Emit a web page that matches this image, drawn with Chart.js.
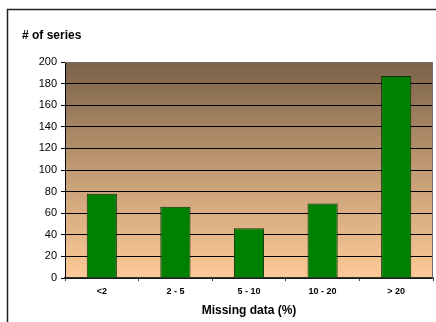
<!DOCTYPE html>
<html>
<head>
<meta charset="utf-8">
<script src="https://cdn.jsdelivr.net/npm/chart.js@4/dist/chart.umd.min.js"></script>
<style>
  html, body { margin: 0; padding: 0; background: #fff; }
  #wrap { width: 436px; height: 322px; position: relative; }
</style>
</head>
<body>
<div id="wrap"><canvas id="chart" width="436" height="322"></canvas></div>
<script>
const categories = ["<2", "2 - 5", "5 - 10", "10 - 20", "> 20"];
const seriesCounts = [78, 66, 46, 69, 187];
const yTicks = [0, 20, 40, 60, 80, 100, 120, 140, 160, 180, 200];
const yTitle = "# of series";
const xTitle = "Missing data (%)";

// plot background gradient + outer frame + y title
const framePlugin = {
  id: "frame",
  beforeDraw(chart) {
    const { ctx, chartArea: a } = chart;
    ctx.save();
    ctx.fillStyle = "#fff";
    ctx.fillRect(0, 0, chart.width, chart.height);
    const g = ctx.createLinearGradient(0, a.top, 0, a.bottom);
    g.addColorStop(0, "#7a6249");
    g.addColorStop(0.5, "#c19b73");
    g.addColorStop(1, "#fdca97");
    ctx.fillStyle = g;
    ctx.fillRect(a.left, a.top, a.right - a.left, a.bottom - a.top);
    // outer frame
    ctx.strokeStyle = "#222";
    ctx.lineWidth = 1.5;
    ctx.beginPath();
    ctx.moveTo(7.5, 322);
    ctx.lineTo(7.5, 9.5);
    ctx.lineTo(436, 9.5);
    ctx.stroke();
    ctx.restore();
  },
  afterDatasetsDraw(chart) {
    const { ctx, chartArea: a } = chart;
    ctx.save();
    ctx.strokeStyle = "#6e6e6e";
    ctx.lineWidth = 1;
    ctx.beginPath();
    ctx.moveTo(a.left, a.top + 0.5);
    ctx.lineTo(a.right - 0.5, a.top + 0.5);
    ctx.lineTo(a.right - 0.5, a.bottom);
    ctx.stroke();
    ctx.fillStyle = "#000";
    ctx.font = "bold 12px Arial, 'Liberation Sans', sans-serif";
    ctx.textBaseline = "middle";
    ctx.fillText(yTitle, 22, 36);
    ctx.restore();
  }
};

new Chart(document.getElementById("chart"), {
  type: "bar",
  data: {
    labels: categories,
    datasets: [{
      data: seriesCounts,
      backgroundColor: "#008000",
      borderColor: "#0f300f",
      borderWidth: 1,
      categoryPercentage: 1,
      barPercentage: 0.41
    }]
  },
  options: {
    responsive: false,
    animation: false,
    layout: { padding: { top: 62, right: 3, left: 0, bottom: 0 } },
    plugins: { legend: { display: false }, tooltip: { enabled: false } },
    scales: {
      x: {
        afterFit: (s) => { s.height = 44; },
        grid: { drawOnChartArea: false, drawTicks: true, tickLength: 3, color: "#444", offset: true },
        border: { color: "#333", width: 1.5 },
        ticks: {
          color: "#000",
          padding: 5,
          font: { family: "Arial, 'Liberation Sans', sans-serif", size: 9, weight: "bold" }
        },
        title: {
          display: true,
          text: xTitle,
          color: "#000",
          font: { family: "Arial, 'Liberation Sans', sans-serif", size: 12, weight: "bold" },
          padding: { top: 0, bottom: 4 }
        }
      },
      y: {
        min: 0,
        max: 200,
        afterFit: (s) => { s.width = 65; },
        afterBuildTicks: (s) => { s.ticks = yTicks.map((v) => ({ value: v })); },
        grid: {
          color: (c) => (c.tick && c.tick.value === 200 ? "#6e6e6e" : "#000"),
          tickLength: 4,
          tickColor: "#000",
          lineWidth: 1
        },
        border: { color: "#000", width: 1 },
        ticks: {
          color: "#000",
          padding: 4,
          font: { family: "Arial, 'Liberation Sans', sans-serif", size: 11 }
        }
      }
    }
  },
  plugins: [framePlugin]
});
</script>
</body>
</html>
